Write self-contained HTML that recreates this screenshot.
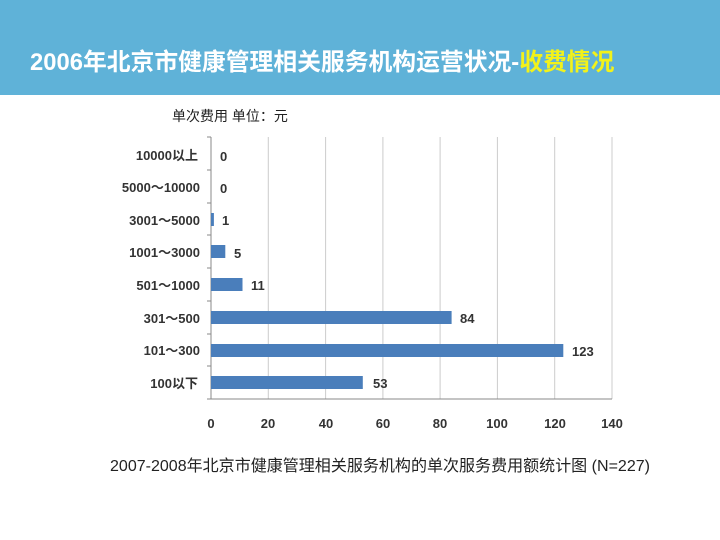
<!DOCTYPE html>
<html><head><meta charset="utf-8"><style>
body{margin:0;width:720px;height:540px;background:#fff;overflow:hidden;font-family:"Liberation Sans","Noto Sans CJK SC",sans-serif;}
.hdr{position:absolute;left:0;top:0;width:720px;height:95px;background:#5fb2d8;}
.t{position:absolute;left:30px;top:42px;font-size:23.8px;font-weight:bold;color:#fff;white-space:nowrap;}
</style></head><body>
<div class="hdr"><div class="t">2006年北京市健康管理相关服务机构运营状况-<span style="color:#f2f21a">收费情况</span></div></div>
<svg width="720" height="540" style="position:absolute;left:0;top:0" font-family="Liberation Sans, Noto Sans CJK SC, sans-serif">
<text x="172" y="121" font-size="14" fill="#222">单次费用 单位：元</text>
<g stroke="#ccc" stroke-width="1">
<line x1="268.3" y1="137" x2="268.3" y2="399"/><line x1="325.6" y1="137" x2="325.6" y2="399"/>
<line x1="382.9" y1="137" x2="382.9" y2="399"/><line x1="440.1" y1="137" x2="440.1" y2="399"/>
<line x1="497.4" y1="137" x2="497.4" y2="399"/><line x1="554.7" y1="137" x2="554.7" y2="399"/>
<line x1="612" y1="137" x2="612" y2="399"/>
</g>
<g stroke="#888" stroke-width="1">
<line x1="211" y1="137" x2="211" y2="399"/><line x1="211" y1="399" x2="612" y2="399"/>
<line x1="207" y1="137" x2="211" y2="137"/><line x1="207" y1="170" x2="211" y2="170"/><line x1="207" y1="203" x2="211" y2="203"/><line x1="207" y1="235" x2="211" y2="235"/><line x1="207" y1="268" x2="211" y2="268"/><line x1="207" y1="301" x2="211" y2="301"/><line x1="207" y1="334" x2="211" y2="334"/><line x1="207" y1="366" x2="211" y2="366"/><line x1="207" y1="399" x2="211" y2="399"/>
</g>
<g fill="#4a7ebb">
<rect x="211" y="213" width="2.9" height="13"/>
<rect x="211" y="245" width="14.3" height="13"/>
<rect x="211" y="278" width="31.5" height="13"/>
<rect x="211" y="311" width="240.6" height="13"/>
<rect x="211" y="344" width="352.3" height="13"/>
<rect x="211" y="376" width="151.8" height="13"/>
</g>
<g font-size="13" font-weight="bold" fill="#333">
<text x="220" y="161">0</text><text x="220" y="193">0</text><text x="222" y="225">1</text><text x="234" y="258">5</text><text x="251" y="290">11</text><text x="460" y="323">84</text><text x="572" y="356">123</text><text x="373" y="388">53</text>
</g>
<g font-size="13" font-weight="bold" fill="#333" text-anchor="end">
<text x="198" y="160">10000以上</text><text x="200" y="192">5000～10000</text><text x="200" y="225">3001～5000</text><text x="200" y="257">1001～3000</text><text x="200" y="290">501～1000</text><text x="200" y="323">301～500</text><text x="200" y="355">101～300</text><text x="198" y="388">100以下</text>
</g>
<g font-size="13" font-weight="bold" fill="#333" text-anchor="middle">
<text x="211" y="428">0</text><text x="268" y="428">20</text><text x="326" y="428">40</text><text x="383" y="428">60</text><text x="440" y="428">80</text><text x="497" y="428">100</text><text x="555" y="428">120</text><text x="612" y="428">140</text>
</g>
<text x="110" y="471" font-size="16" fill="#222" textLength="540" lengthAdjust="spacingAndGlyphs">2007-2008年北京市健康管理相关服务机构的单次服务费用额统计图 (N=227)</text>
</svg>
</body></html>
